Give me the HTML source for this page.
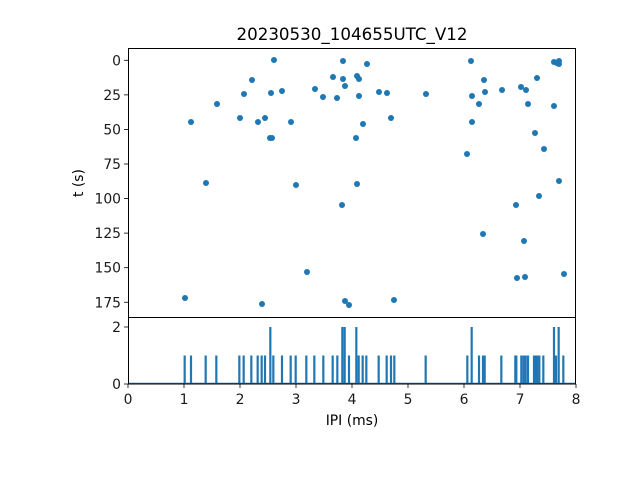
<!DOCTYPE html>
<html><head><meta charset="utf-8"><style>body{margin:0;background:#fff}svg{display:block}</style></head><body>
<svg width="640" height="480" xmlns="http://www.w3.org/2000/svg" font-family="DejaVu Sans, Liberation Sans, sans-serif" font-size="13.9">
<rect width="640" height="480" fill="#fff"/>
<g fill="#1f77b4" id="pts"></g>
<g id="hist" fill="#1f77b4"></g>
<line x1="128" y1="383.5" x2="576" y2="383.5" stroke="#1f77b4" stroke-width="1.5"/>
<g fill="none" stroke="#000" stroke-width="1">
<rect x="128.5" y="48.5" width="447" height="269"/>
<rect x="128.5" y="317.5" width="447" height="66.5"/>
</g>
<g id="ticks" stroke="#000" stroke-width="0.8"></g>
<g id="labels" fill="#1a1a1a"></g>
<text x="352" y="40" text-anchor="middle" font-size="16.7" fill="#000">20230530_104655UTC_V12</text>
<text x="352" y="425" text-anchor="middle" fill="#000">IPI (ms)</text>
<text transform="translate(83,183) rotate(-90)" text-anchor="middle" fill="#000">t (s)</text>
<script>
var ns="http://www.w3.org/2000/svg";
function el(p,t,a,txt){var e=document.createElementNS(ns,t);for(var k in a)e.setAttribute(k,a[k]);if(txt!==undefined)e.textContent=txt;document.getElementById(p).appendChild(e);}
var P=[[274,60],[343,61],[252,80],[333,77],[343,79],[345,86],[244,94],[271,93],[282,91],[315,89],[323,97],[337,98],[217,104],[191,122],[240,118],[258,122],[265,118],[291,122],[270,138],[272,138],[206,183],[296,185],[342,205],[307,272],[185,298],[262,304],[345,301],[349,305],
[367,64],[357,76],[359,79],[359,96],[379,92],[387,93],[426,94],[391,118],[363,124],[356,138],[357,184],[394,300],[471,61],[484,80],[485,92],[472,96],[479,104],[502,90],[472,122],[467,154],[483,234],[521,87],[526,90],[528,104],[537,78],[554,106],[535,133],[544,149],[559,181],[539,196],[516,205],[524,241],[517,278],[525,277],[564,274],[554,62],[557,63],[559,61],[559,64]];
P.forEach(function(p){el("pts","circle",{cx:p[0],cy:p[1],r:3});});
var H=[170,189,233,265,334,347,370,389,401,411,[427,2],436,462,488,503,535,559,586,614,628,[643,2],[650,2],663,[685,2],692,704,715,752,776,789,799,893,1018,[1031,2],1053,1065,1070,1120,1162,1165,1180,1187,1193,1200,1218,1223,1228,1234,1246,[1278,2],1284,[1292,2],1306];
H.forEach(function(h){var z=h,n=1;if(Array.isArray(h)){z=h[0];n=h[1];}var x=128+z/3;var top=n==2?327:355.5;el("hist","rect",{x:x-1.1,y:top,width:2.2,height:384-top});});
for(var i=0;i<=8;i++){var x=128+56*i;el("ticks","line",{x1:x,y1:384,x2:x,y2:388});el("labels","text",{x:x,y:404,"text-anchor":"middle"},i);}
for(var v=0;v<=175;v+=25){var y=60.3+1.3826*v;el("ticks","line",{x1:124,y1:y,x2:128,y2:y});el("labels","text",{x:121,y:y+5,"text-anchor":"end"},v);}
[[0,384],[2,327]].forEach(function(t){el("ticks","line",{x1:124,y1:t[1],x2:128,y2:t[1]});el("labels","text",{x:121,y:t[1]+5,"text-anchor":"end"},t[0]);});
</script>
</svg>
</body></html>
